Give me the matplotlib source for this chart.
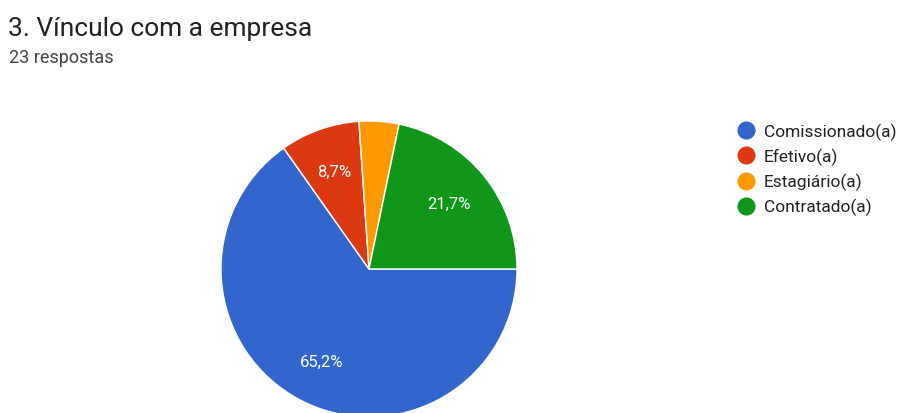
import matplotlib.pyplot as plt
from matplotlib.lines import Line2D

plt.rcParams['font.family'] = ['Roboto', 'DejaVu Sans']

# Dados
categorias = ['Comissionado(a)', 'Efetivo(a)', 'Estagiário(a)', 'Contratado(a)']
respostas = [15, 2, 1, 5]
cores = ['#3366cc', '#dc3912', '#ff9900', '#109618']
total = sum(respostas)


def rotulo(pct):
    # Google Forms esconde o rótulo das fatias pequenas
    if pct < 5:
        return ''
    return f'{pct:.1f}%'.replace('.', ',')


W, H = 915, 414
fig = plt.figure(figsize=(W / 100, H / 100), dpi=100)

# pizza: centro (369, 270) px, raio 148 px
cx, cy, r = 369, 270, 148
ax = fig.add_axes([(cx - r) / W, (H - cy - r) / H, 2 * r / W, 2 * r / H])
ax.pie(respostas, colors=cores, startangle=0, counterclock=False,
       autopct=rotulo, pctdistance=0.7, radius=1,
       wedgeprops=dict(edgecolor='white', linewidth=1),
       textprops=dict(color='white', fontsize=12))
ax.set_xlim(-1, 1)
ax.set_ylim(-1, 1)
ax.set_aspect('equal')
ax.axis('off')

fig.text(8 / W, 1 - 29 / H, '3. Vínculo com a empresa', fontsize=19,
         color='#212121', va='center', ha='left')
fig.text(9 / W, 1 - 58 / H, '23 respostas', fontsize=13,
         color='#444444', va='center', ha='left')

alcas = [Line2D([], [], marker='o', linestyle='', markersize=12,
                markerfacecolor=c, markeredgecolor=c) for c in cores]
fig.legend(alcas, categorias, loc='upper left',
           bbox_to_anchor=(737 / W, 1 - 124 / H), frameon=False,
           fontsize=12.5, labelcolor='#222222', handlelength=1.0,
           handletextpad=0.55, labelspacing=0.45, borderaxespad=0,
           borderpad=0)

plt.savefig('out.png', dpi=100)
